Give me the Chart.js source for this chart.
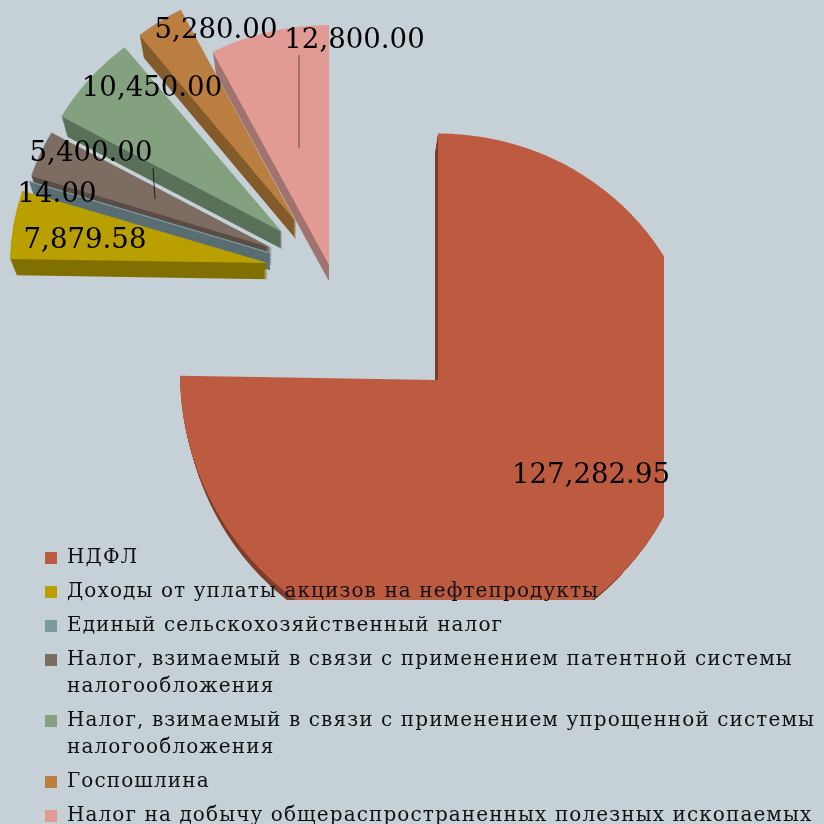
<!DOCTYPE html>
<html>
<head>
<meta charset="utf-8">
<title>Налоговые доходы</title>
<script src="https://cdn.jsdelivr.net/npm/chart.js@4"></script>
<style>
  html, body { margin: 0; padding: 0; background: #c5d0d7; }
  canvas { display: block; }
</style>
</head>
<body>
<canvas id="pieChart" width="824" height="824"></canvas>
<script>
const categories = [
  ['НДФЛ'],
  ['Доходы от уплаты акцизов на нефтепродукты'],
  ['Единый сельскохозяйственный налог'],
  ['Налог, взимаемый в связи с применением патентной системы', 'налогообложения'],
  ['Налог, взимаемый в связи с применением упрощенной системы', 'налогообложения'],
  ['Госпошлина'],
  ['Налог на добычу общераспространенных полезных ископаемых']
];
const seriesValues = [127282.95, 7879.58, 14.00, 5400.00, 10450.00, 5280.00, 12800.00];
const sliceColors = ['#bd5b41', '#b9a000', '#7c9a9e', '#7d6c62', '#84a17f', '#ba7f40', '#e29b94'];
const sideColors = ['#823e2d', '#807000', '#5a7075', '#5a4d46', '#5a7159', '#845c2b', '#a07470'];
const sliceBorders = [0, 0, 1, 0, 0, 0, 0];

// where each slice tip sits, the picture is not a real explode along the mid angle
const tipX = [438, 268, 270, 272, 282, 296, 329];
const tipY = [380, 263, 253, 248, 232, 222, 265];
const squashX = [1, 1, 0.98, 0.98, 0.98, 0.975, 0.985];
const squashY = [0.955, 0.92, 0.91, 0.915, 0.915, 0.925, 0.93];
// the big slice is not a clean ellipse, its right and near parts are stretched by the perspective
const farRightX = 1.012;
const nearSquashY = 1.04;
const nearSkewX = 0.028;
const vanishX = [323, 268, 270, 272, 282, 296, 329];
const vanishY = 888;
const depthScale = 0.974;
const depthSteps = 16;
const drawOrder = [0, 4, 3, 2, 1, 5, 6];

const labelX = [591, 85, 57, 91, 152, 216, 354.5];
const labelY = [476, 241, 195, 154, 89, 31, 41];
const leaderLines = [
  { x1: 299, y1: 55, x2: 299, y2: 148, color: 'rgba(60,40,40,0.75)' },
  { x1: 153, y1: 168, x2: 155, y2: 199, color: 'rgba(0,0,0,0.75)' }
];

function drawPart(ctx, arc, i, area, matrix) {
  ctx.save();
  ctx.beginPath();
  ctx.rect(area[0], area[1], area[2], area[3]);
  ctx.clip();
  ctx.translate(tipX[i], tipY[i]);
  ctx.transform(matrix[0], 0, matrix[1], matrix[2], 0, 0);
  ctx.translate(-arc.x, -arc.y);
  arc.draw(ctx);
  ctx.restore();
}

function drawPlaced(ctx, arc, i) {
  const x = tipX[i], y = tipY[i];
  if (i === 0) {
    drawPart(ctx, arc, i, [-100, -100, x + 100.5, y + 100.5], [squashX[i], 0, squashY[i]]);
    drawPart(ctx, arc, i, [x, -100, 800, y + 100.5], [farRightX, 0, squashY[i]]);
    drawPart(ctx, arc, i, [-100, y, 1100, 800], [1, nearSkewX, nearSquashY]);
  } else {
    drawPart(ctx, arc, i, [-100, -100, 1100, y + 100.5], [squashX[i], 0, squashY[i]]);
  }
}

const solidPie = {
  id: 'solidPie',
  beforeLayout(chart) {
    // legend text lies over the pie in the reference
    const legend = chart.legend;
    legend._layers = () => [{
      z: 1,
      draw() {
        chart.ctx.save();
        chart.ctx.letterSpacing = '1.1px';
        legend.draw();
        chart.ctx.restore();
      }
    }];
  },
  afterLayout(chart) {
    const legend = chart.legend;
    legend.left = 38;
    legend.right = 824;
    legend.top = 541;
    legend.bottom = 2000;
  },
  beforeDatasetDraw(chart, args) {
    const ctx = chart.ctx;
    const arcs = chart.getDatasetMeta(args.index).data;
    ctx.save();
    ctx.beginPath();
    ctx.rect(0, 0, 664, 600);
    ctx.clip();
    drawOrder.forEach(i => {
      const arc = arcs[i];
      const frontOptions = arc.options;
      arc.options = Object.assign({}, frontOptions, {
        backgroundColor: sideColors[i],
        borderColor: sideColors[i],
        borderWidth: sliceBorders[i]
      });
      for (let step = depthSteps; step > 0; step--) {
        const s = 1 - (1 - depthScale) * step / depthSteps;
        ctx.save();
        ctx.translate(vanishX[i], vanishY);
        ctx.scale(s, s);
        ctx.translate(-vanishX[i], -vanishY);
        drawPlaced(ctx, arc, i);
        ctx.restore();
      }
      arc.options = Object.assign({}, frontOptions, {
        borderColor: sliceColors[i],
        borderWidth: sliceBorders[i]
      });
      drawPlaced(ctx, arc, i);
      arc.options = frontOptions;
    });
    ctx.restore();
    return false;
  },
  afterDatasetsDraw(chart) {
    const ctx = chart.ctx;
    ctx.save();
    leaderLines.forEach(l => {
      ctx.beginPath();
      ctx.moveTo(l.x1, l.y1);
      ctx.lineTo(l.x2, l.y2);
      ctx.strokeStyle = l.color;
      ctx.lineWidth = 1;
      ctx.stroke();
    });
    ctx.font = '27.6px "DejaVu Serif"';
    ctx.fillStyle = '#000';
    ctx.textAlign = 'center';
    ctx.textBaseline = 'middle';
    seriesValues.forEach((v, i) => {
      const text = v.toLocaleString('en-US', { minimumFractionDigits: 2, maximumFractionDigits: 2 });
      ctx.fillText(text, labelX[i], labelY[i]);
    });
    ctx.restore();
  }
};

new Chart(document.getElementById('pieChart').getContext('2d'), {
  type: 'pie',
  data: {
    labels: categories,
    datasets: [{
      data: seriesValues,
      backgroundColor: sliceColors,
      borderWidth: 0,
      radius: 258
    }]
  },
  options: {
    responsive: false,
    animation: false,
    layout: { padding: { left: 51, top: 0, right: 0, bottom: 64 } },
    plugins: {
      tooltip: { enabled: false },
      legend: {
        position: 'left',
        align: 'start',
        maxWidth: 1,
        labels: {
          boxWidth: 12,
          boxHeight: 12,
          padding: 7,
          color: '#111',
          font: { family: '"DejaVu Serif"', size: 20, lineHeight: 27 / 20 }
        }
      }
    }
  },
  plugins: [solidPie]
});
</script>
</body>
</html>
